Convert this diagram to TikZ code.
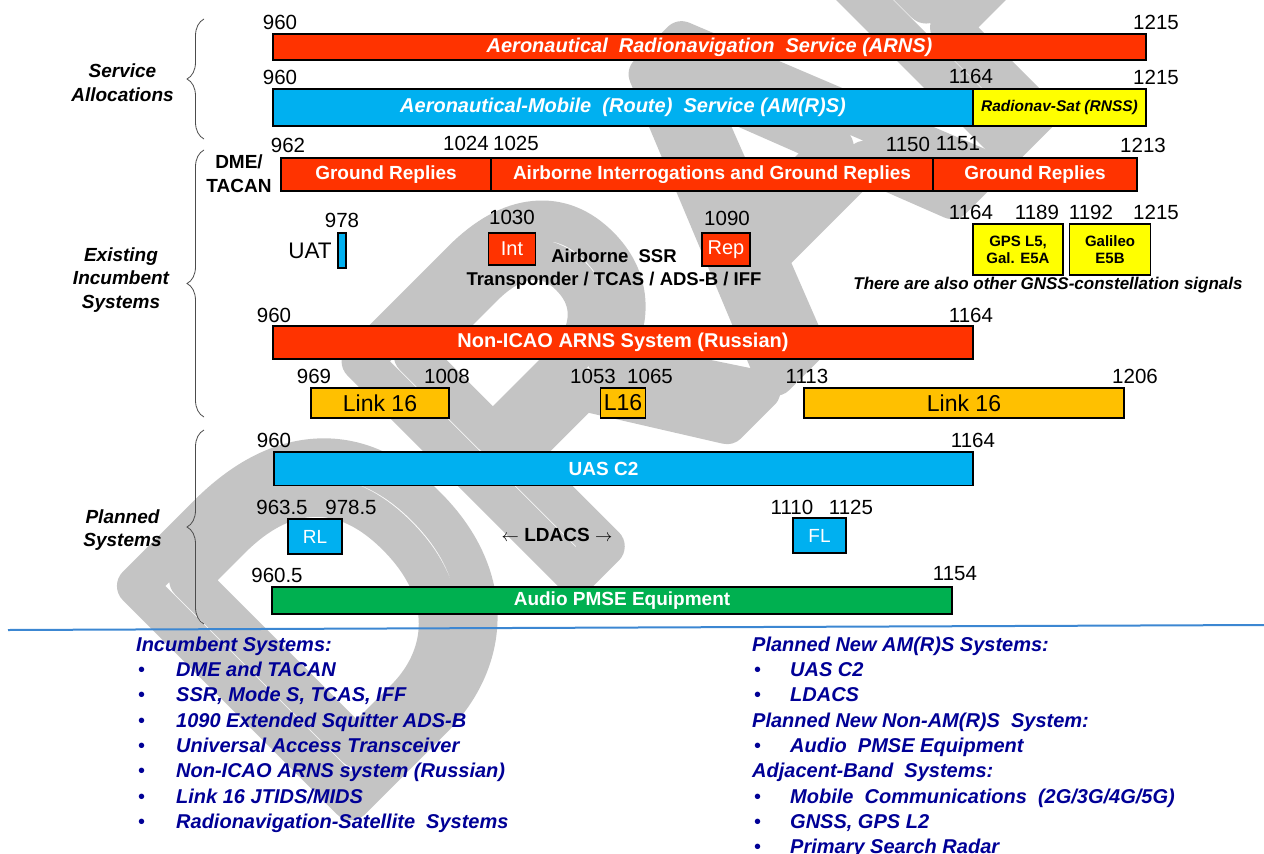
\documentclass[tikz,border=0pt]{standalone}
\usepackage{fontspec}
\setmainfont{Liberation Sans}
\usetikzlibrary{decorations.pathreplacing}
\definecolor{arnscol}{RGB}{255,51,0}
\definecolor{amrscol}{RGB}{0,176,240}
\definecolor{rnsscol}{RGB}{255,255,0}
\definecolor{linkcol}{RGB}{255,192,0}
\definecolor{pmsecol}{RGB}{0,176,80}
\definecolor{listcol}{RGB}{0,0,150}
\definecolor{rulecol}{RGB}{60,135,210}
\definecolor{draftcol}{RGB}{196,196,196}
\newcommand{\fsz}[2]{\fontsize{#1}{#2}\selectfont}
\newcommand{\bul}[1]{\makebox[#1][l]{\hspace*{2pt}\normalfont\textbullet}}
\makeatletter
\newcommand{\draftstroke}{\pgfsys@invoke{1 Tr 40 w 1 j}}
\makeatother

\begin{document}
\begin{tikzpicture}[x=1pt, y=-1pt,
    bar/.style={draw=black, line width=1.2, inner sep=0, text=white, font=\bfseries\fsz{19}{22}},
    ibar/.style={bar, font=\bfseries\itshape\fsz{20}{24}},
    tag/.style={draw=black, line width=1.2, inner sep=0, align=center},
    num/.style={font=\fsz{20.5}{24}, inner sep=0},
    side/.style={font=\bfseries\itshape\fsz{19}{23.7}, align=center},
    lst/.style={font=\bfseries\itshape\fsz{20}{25.3}, text=listcol, align=left, inner sep=0, anchor=north west},
    grp/.style={decorate, decoration={brace, amplitude=17}, draw=black!70, line width=0.8},
]
\useasboundingbox (0,0) rectangle (1264,854);

% watermark
\begin{scope}
\node[text=draftcol, font=\fsz{440}{440}, rotate=45, inner sep=0] (draft) at (737,200) {\draftstroke DRAFT};
\end{scope}

% service allocations
\node[num] (n960a) at (280,22) {960};
\node[num] (n1215a) at (1156,22) {1215};
\node[ibar, fill=arnscol, minimum width=873, minimum height=26] (arns) at (709.5,47)
  {Aeronautical~ Radionavigation~ Service (ARNS)};
\node[num] (n960b) at (280,77) {960};
\node[num] (n1164b) at (971,76) {1164};
\node[num] (n1215b) at (1156,77) {1215};
\node[ibar, fill=amrscol, minimum width=700, minimum height=37] (amrs) at (623,107.5)
  {Aeronautical-Mobile~ (Route)~ Service (AM(R)S)};
\node[ibar, fill=rnsscol, text=black, font=\bfseries\itshape\fsz{15.5}{18}, minimum width=173, minimum height=37] (rnss) at (1059.5,107.5)
  {Radionav-Sat (RNSS)};

% DME / TACAN
\node[num] (n962) at (288,145) {962};
\node[num] (n1024) at (466,143) {1024};
\node[num] (n1025) at (516,143) {1025};
\node[num] (n1150) at (908,144) {1150};
\node[num] (n1151) at (958,144) {1151};
\node[num] (n1213) at (1143,145) {1213};
\node[font=\bfseries\fsz{19}{24}, align=center] (dmelbl) at (239,174) {DME/\\TACAN};
\node[bar, fill=arnscol, minimum width=210, minimum height=33] (dmea) at (386,174.5) {Ground Replies};
\node[bar, fill=arnscol, minimum width=442, minimum height=33] (dmeb) at (712,174.5) {Airborne Interrogations and Ground Replies};
\node[bar, fill=arnscol, minimum width=204, minimum height=33] (dmec) at (1035,174.5) {Ground Replies};

% UAT, SSR, GNSS
\node[num] (n978) at (342,220) {978};
\node[font=\fsz{22.5}{26}] (uatlbl) at (310,251) {UAT};
\node[tag, fill=amrscol, minimum width=8, minimum height=35] (uat) at (342,250.5) {};
\node[num] (n1030) at (512,217) {1030};
\node[tag, fill=arnscol, text=white, font=\fsz{20}{22}, minimum width=47.5, minimum height=32] (int) at (512,249) {Int};
\node[num] (n1090) at (727,218) {1090};
\node[tag, fill=arnscol, text=white, font=\fsz{20}{22}, minimum width=48, minimum height=33] (rep) at (726,249.5) {Rep};
\node[font=\bfseries\fsz{18.5}{23.5}, align=center] (ssrlbl) at (614,269)
  {Airborne~ SSR\\Transponder / TCAS / ADS-B / IFF};
\node[num] (n1164c) at (971,212) {1164};
\node[num] (n1189) at (1037,212) {1189};
\node[num] (n1192) at (1091,212) {1192};
\node[num] (n1215c) at (1156,212) {1215};
\node[tag, fill=rnsscol, font=\bfseries\fsz{15}{17.3}, minimum width=90, minimum height=51] (gps) at (1018,249.5) {GPS L5,\\Gal. E5A};
\node[tag, fill=rnsscol, font=\bfseries\fsz{15}{17.3}, minimum width=81.5, minimum height=51] (gal) at (1110,249.5) {Galileo\\E5B};
\node[font=\bfseries\itshape\fsz{17}{20}] (gnsslbl) at (1048,285.5) {There are also other GNSS-constellation signals};

% non-ICAO and Link 16
\node[num] (n960d) at (274,315) {960};
\node[num] (n1164d) at (971,315) {1164};
\node[bar, fill=arnscol, font=\bfseries\fsz{20}{24}, minimum width=700, minimum height=33] (rus) at (623,342.5) {Non-ICAO ARNS System (Russian)};
\node[num] (n969) at (314,376) {969};
\node[num] (n1008) at (447,376) {1008};
\node[num] (n1053) at (593,376) {1053};
\node[num] (n1065) at (650,376) {1065};
\node[num] (n1113) at (807,376) {1113};
\node[num] (n1206) at (1135,376) {1206};
\node[tag, fill=linkcol, font=\fsz{23}{26}, minimum width=138, minimum height=30] (linka) at (380,403) {Link 16};
\node[tag, fill=linkcol, font=\fsz{23}{26}, minimum width=45, minimum height=30] (linkb) at (623,403) {L16};
\node[tag, fill=linkcol, font=\fsz{23}{26}, minimum width=320, minimum height=30] (linkc) at (964,403) {Link 16};

% planned systems
\node[num] (n960e) at (274,440) {960};
\node[num] (n1164e) at (973,440) {1164};
\node[bar, minimum width=699, minimum height=33.5, fill=amrscol] (uas) at (623.5,468.7) {\hspace*{-40pt}UAS C2};
\node[num] (n9635) at (282,507) {963.5};
\node[num] (n9785) at (351,507) {978.5};
\node[num] (n1110) at (792,507) {1110};
\node[num] (n1125) at (851,507) {1125};
\node[tag, fill=amrscol, text=white, font=\fsz{19}{22}, minimum width=54, minimum height=35] (rl) at (315,536.5) {RL};
\node[tag, fill=amrscol, text=white, font=\fsz{19}{22}, minimum width=53, minimum height=35] (fl) at (819.5,535.5) {FL};
\node[font=\bfseries\fsz{19}{22}] (ldacs) at (557,535) {$\leftarrow$ LDACS $\rightarrow$};
\node[num] (n9605) at (277,575) {960.5};
\node[num] (n1154) at (955,574) {1154};
\node[bar, fill=pmsecol, minimum width=680, minimum height=27] (pmse) at (612,600.5) {\hspace*{20pt}Audio PMSE Equipment};

% braces and group names
\draw[grp] (204,139) -- (204,19);
\draw[grp] (204,417) -- (204,150);
\draw[grp] (204,624) -- (204,430);
\node[side] (svc) at (122.5,83) {Service\\Allocations};
\node[side] (exist) at (121,280) {Existing\\Incumbent\\Systems};
\node[side] (plan) at (122.5,530) {Planned\\Systems};

% legend
\draw[rulecol, line width=2] (8,630) -- (1264,625);
\node[lst] (inclist) at (136,636.5) {Incumbent Systems:\\
  \bul{40pt}DME and TACAN\\
  \bul{40pt}SSR, Mode S, TCAS, IFF\\
  \bul{40pt}1090 Extended Squitter ADS-B\\
  \bul{40pt}Universal Access Transceiver\\
  \bul{40pt}Non-ICAO ARNS system (Russian)\\
  \bul{40pt}Link 16 JTIDS/MIDS\\
  \bul{40pt}Radionavigation-Satellite~ Systems};
\node[lst] (newlist) at (752,636.5) {Planned New AM(R)S Systems:\\
  \bul{38pt}UAS C2\\
  \bul{38pt}LDACS\\
  Planned New Non-AM(R)S~ System:\\
  \bul{38pt}Audio~ PMSE Equipment\\
  Adjacent-Band~ Systems:\\
  \bul{38pt}Mobile~ Communications~ (2G/3G/4G/5G)\\
  \bul{38pt}GNSS, GPS L2\\
  \bul{38pt}Primary Search Radar};
\end{tikzpicture}
\end{document}
